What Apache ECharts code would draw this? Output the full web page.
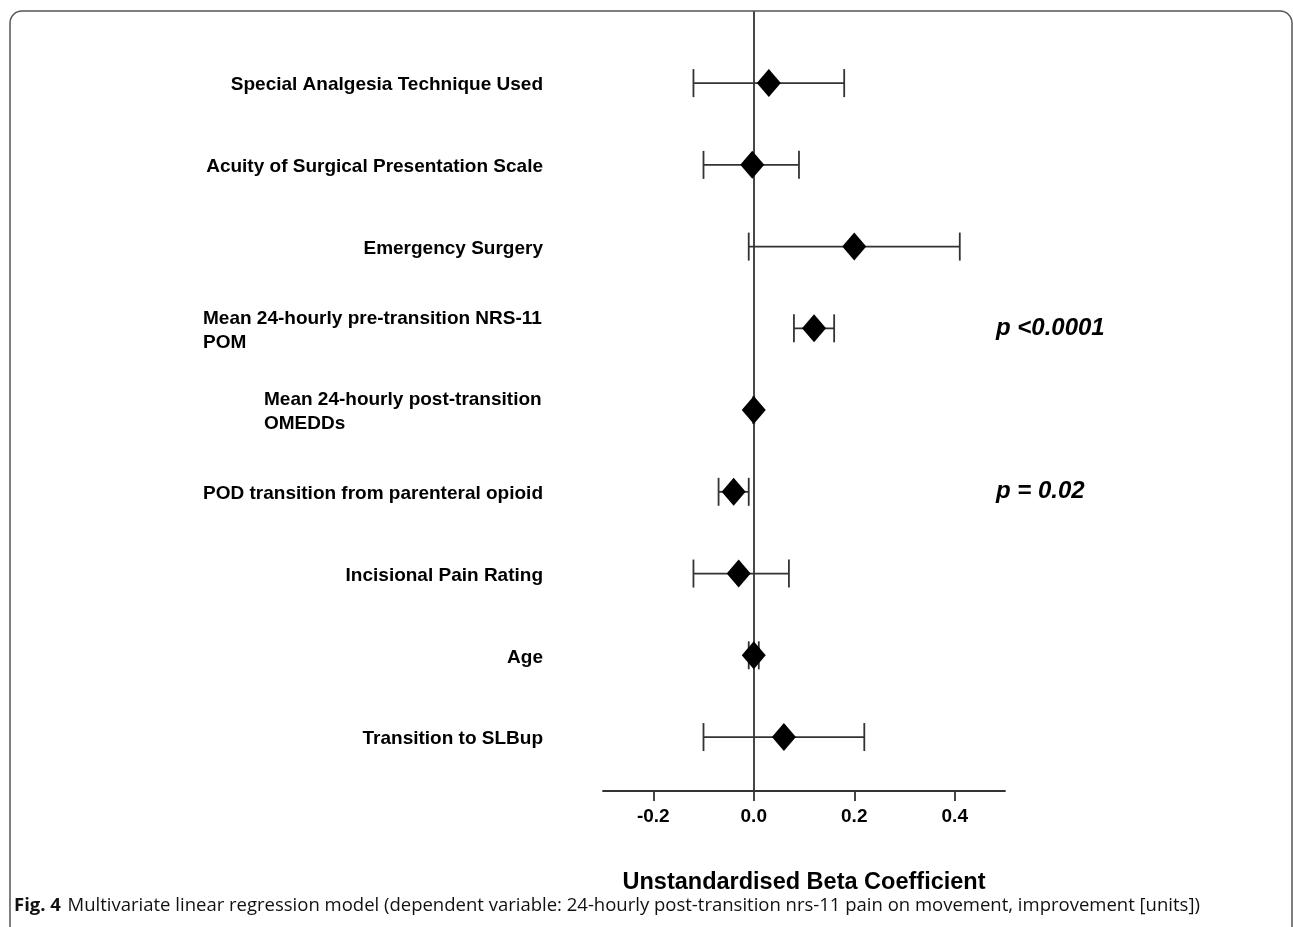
<!DOCTYPE html>
<html>
<head>
<meta charset="utf-8">
<title>Multivariate linear regression model</title>
<script src="https://cdn.jsdelivr.net/npm/echarts@6/dist/echarts.min.js"></script>
<style>
  html, body { margin: 0; padding: 0; background: #ffffff; }
  #chart { width: 1293px; height: 927px; }
</style>
</head>
<body>
<div id="chart"></div>
<script>
// Predictors, listed top to bottom
const predictors = [
  'Special Analgesia Technique Used',
  'Acuity of Surgical Presentation Scale',
  'Emergency Surgery',
  'Mean 24-hourly pre-transition NRS-11\nPOM',
  'Mean 24-hourly post-transition\nOMEDDs',
  'POD transition from parenteral opioid',
  'Incisional Pain Rating',
  'Age',
  'Transition to SLBup'
];
// Unstandardised beta coefficients and 95% confidence limits
const beta    = [0.03, -0.003, 0.20, 0.12, 0.0, -0.04, -0.03, 0.0, 0.06];
const ciLower = [-0.12, -0.10, -0.01, 0.08, -0.001, -0.07, -0.12, -0.01, -0.10];
const ciUpper = [0.18, 0.09, 0.41, 0.16, 0.001, -0.01, 0.07, 0.01, 0.22];
// Significance annotations: [row index, text]
const pRows  = [3, 5];
const pTexts = ['p <0.0001', 'p = 0.02'];
const pLabelX = 0.482;
// Tick labels on the coefficient axis
const xTicks = [-0.2, 0.0, 0.2, 0.4];

const LABEL_FONT = 'Liberation Sans, Arial, Helvetica, sans-serif';
const LABEL_SIZE = 19;

// Multi-line predictor names are set as a left-aligned block, right edge at the axis
const measureCtx = document.createElement('canvas').getContext('2d');
measureCtx.font = 'bold ' + LABEL_SIZE + 'px ' + LABEL_FONT;
const labelRich = {};
predictors.forEach(function (name, i) {
  const lines = name.split('\n');
  if (lines.length > 1) {
    const w = Math.max.apply(null, lines.map(function (l) { return measureCtx.measureText(l).width; }));
    labelRich['r' + i] = {
      width: Math.ceil(w) + 1, align: 'left',
      fontFamily: LABEL_FONT, fontSize: LABEL_SIZE, fontWeight: 'bold',
      color: '#000', lineHeight: 24
    };
  }
});

const rowIdx = predictors.map(function (_, i) { return i; });
const pointData = beta.map(function (b, i) { return [b, i]; });
const barData = beta.map(function (_, i) { return [ciLower[i], ciUpper[i], i]; });
const pData = pRows.map(function (r, k) { return { value: [pLabelX, r], text: pTexts[k] }; });

const LINE_COLOR = '#333333';

const chart = echarts.init(document.getElementById('chart'), null, { renderer: 'canvas' });

const option = {
  backgroundColor: '#ffffff',
  animation: false,
  grid: { left: 603, right: 288, top: 12, bottom: 136, containLabel: false },
  xAxis: {
    type: 'value',
    min: -0.3,
    max: 0.5,
    axisLine: { show: true, onZero: false, lineStyle: { color: LINE_COLOR, width: 1.8 } },
    axisTick: {
      show: true, length: 10, customValues: xTicks,
      lineStyle: { color: LINE_COLOR, width: 1.8 }
    },
    axisLabel: {
      customValues: xTicks,
      margin: 16,
      formatter: function (v) { return v.toFixed(1); },
      fontFamily: LABEL_FONT, fontSize: LABEL_SIZE, fontWeight: 'bold', color: '#000'
    },
    splitLine: { show: false },
    name: 'Unstandardised Beta Coefficient',
    nameLocation: 'middle',
    nameGap: 80,
    nameTextStyle: { fontFamily: LABEL_FONT, fontSize: 23.5, fontWeight: 'bold', color: '#000' }
  },
  yAxis: [
    {
      // predictor names on the left
      type: 'value',
      inverse: true,
      min: -0.87,
      max: 8.66,
      position: 'left',
      axisLine: { show: false, onZero: false },
      axisTick: { show: false },
      splitLine: { show: false },
      axisLabel: {
        customValues: rowIdx,
        margin: 60,
        padding: [4, 0, 0, 0],
        fontFamily: LABEL_FONT, fontSize: LABEL_SIZE, fontWeight: 'bold', color: '#000',
        lineHeight: 24,
        rich: labelRich,
        formatter: function (v) {
          const name = predictors[v];
          if (name === undefined) return '';
          const lines = name.split('\n');
          if (lines.length === 1) return name;
          return lines.map(function (l) { return '{r' + v + '|' + l + '}'; }).join('\n');
        }
      }
    },
    {
      // reference line at zero effect
      type: 'value',
      inverse: true,
      min: -0.87,
      max: 8.66,
      position: 'left',
      axisLine: { show: true, onZero: true, lineStyle: { color: LINE_COLOR, width: 1.8 } },
      axisTick: { show: false },
      axisLabel: { show: false },
      splitLine: { show: false }
    }
  ],
  series: [
    {
      name: '95% CI',
      type: 'custom',
      yAxisIndex: 0,
      z: 2,
      data: barData,
      renderItem: function (params, api) {
        const row = api.value(2);
        const p0 = api.coord([api.value(0), row]);
        const p1 = api.coord([api.value(1), row]);
        const cap = 14;
        const style = { stroke: LINE_COLOR, lineWidth: 1.8, fill: null };
        return {
          type: 'group',
          children: [
            { type: 'line', shape: { x1: p0[0], y1: p0[1], x2: p1[0], y2: p1[1] }, style: style },
            { type: 'line', shape: { x1: p0[0], y1: p0[1] - cap, x2: p0[0], y2: p0[1] + cap }, style: style },
            { type: 'line', shape: { x1: p1[0], y1: p1[1] - cap, x2: p1[0], y2: p1[1] + cap }, style: style }
          ]
        };
      }
    },
    {
      name: 'Beta',
      type: 'scatter',
      yAxisIndex: 0,
      z: 5,
      symbol: 'diamond',
      symbolSize: [24, 28],
      itemStyle: { color: '#000000', opacity: 1 },
      data: pointData
    },
    {
      name: 'Significance',
      type: 'scatter',
      yAxisIndex: 0,
      symbolSize: 0,
      silent: true,
      data: pData,
      itemStyle: { opacity: 1 },
      label: {
        show: true,
        position: 'right',
        distance: 0,
        formatter: function (p) { return p.data.text; },
        fontFamily: LABEL_FONT, fontSize: 24, fontWeight: 'bold', fontStyle: 'italic',
        color: '#000000', opacity: 1
      },
      emphasis: { disabled: true }
    }
  ],
  graphic: [
    {
      // figure panel border
      type: 'rect',
      silent: true,
      shape: { x: 10, y: 11, width: 1282, height: 1000, r: 12 },
      style: { fill: null, stroke: '#555', lineWidth: 1.5 }
    },
    {
      type: 'text',
      silent: true,
      left: 14,
      top: 896,
      style: {
        text: '{b|Fig. 4}  {n|Multivariate linear regression model (dependent variable: 24-hourly post-transition nrs-11 pain on movement, improvement [units])}',
        rich: {
          b: { fontFamily: 'Open Sans, Noto Sans, sans-serif', fontSize: 18.5, fontWeight: 'bold', fill: '#111' },
          n: { fontFamily: 'Open Sans, Noto Sans, sans-serif', fontSize: 18.5, fill: '#111' }
        }
      }
    }
  ]
};

chart.setOption(option);
</script>
</body>
</html>
